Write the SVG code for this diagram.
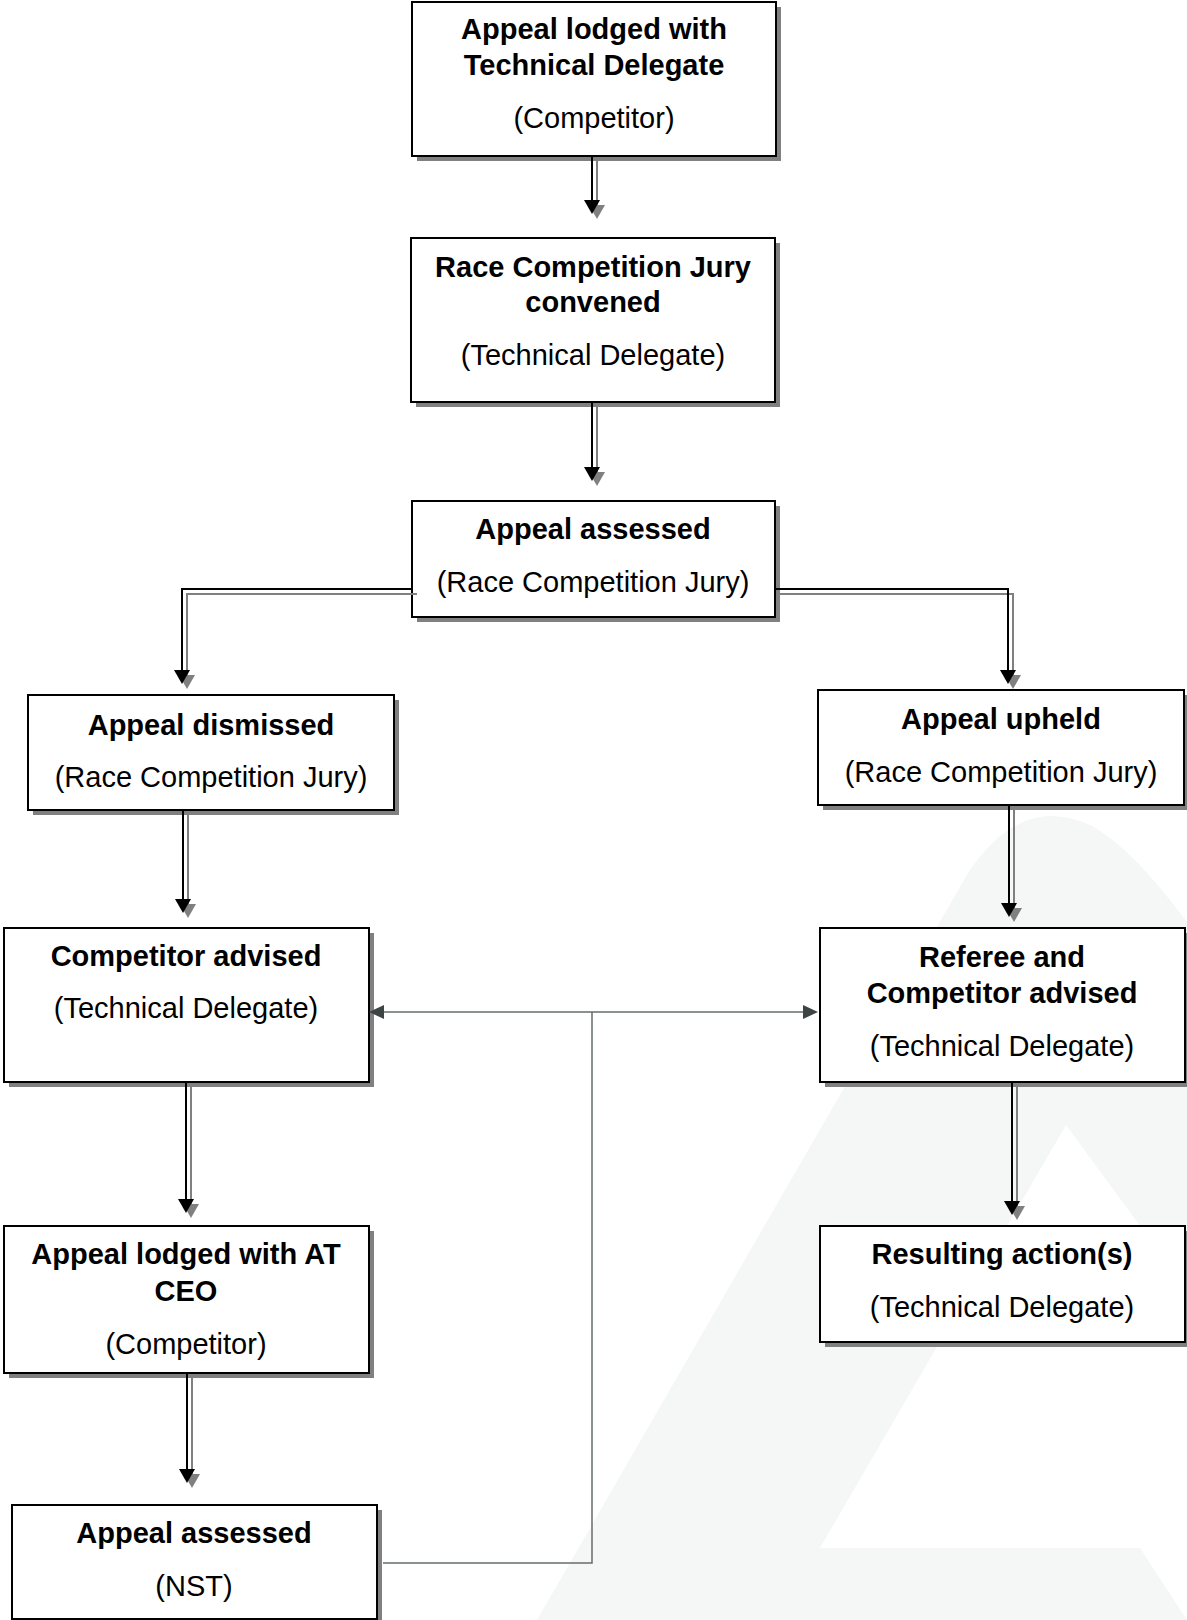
<svg xmlns="http://www.w3.org/2000/svg" width="1187" height="1620" viewBox="0 0 1187 1620">
<style>
.box{fill:#ffffff;stroke:#000000;stroke-width:2}
.sh{fill:#808080}
.t{font-family:"Liberation Sans",Arial,sans-serif;font-size:29px;fill:#000000;text-anchor:middle}
.b{font-weight:bold}
.c{fill:none;stroke:#000000;stroke-width:2;marker-end:url(#ah)}
.cs{fill:none;stroke:#808080;stroke-width:2;marker-end:url(#ahs)}
.thin{fill:none;stroke:#656c6c;stroke-width:1.5}
.thina{fill:none;stroke:#656c6c;stroke-width:1.5;marker-end:url(#aht)}
</style>
<defs>
<marker id="ah" viewBox="0 0 14 16" refX="8" refY="8" markerWidth="14" markerHeight="16" markerUnits="userSpaceOnUse" orient="auto"><path d="M0,0 L14,8 L0,16 Z" fill="#000000"/></marker>
<marker id="ahs" viewBox="0 0 14 16" refX="8" refY="8" markerWidth="14" markerHeight="16" markerUnits="userSpaceOnUse" orient="auto"><path d="M0,0 L14,8 L0,16 Z" fill="#808080"/></marker>
<marker id="aht" viewBox="0 0 15 14" refX="9" refY="7" markerWidth="15" markerHeight="14" markerUnits="userSpaceOnUse" orient="auto"><path d="M0,0 L15,7 L0,14 Z" fill="#3d4544"/></marker>
</defs>
<rect width="1187" height="1620" fill="#ffffff"/>
<path id="watermark" d="M537 1620 L968 873 Q1022 792 1092 826 Q1132 848 1187 922 L1187 1290 L1066 1125 L820 1548 L1140 1548 L1187 1620 Z" fill="#f5f6f6"/>

<g id="n1">
<rect class="sh" x="417" y="7" width="364" height="154"/>
<rect class="box" x="412" y="2" width="364" height="154"/>
<text class="t b" x="594" y="39">Appeal lodged with</text>
<text class="t b" x="594" y="75">Technical Delegate</text>
<text class="t" x="594" y="128">(Competitor)</text>
</g>
<g id="n2">
<rect class="sh" x="416" y="243" width="364" height="164"/>
<rect class="box" x="411" y="238" width="364" height="164"/>
<text class="t b" x="593" y="277">Race Competition Jury</text>
<text class="t b" x="593" y="312">convened</text>
<text class="t" x="593" y="365">(Technical Delegate)</text>
</g>
<g id="n3">
<rect class="sh" x="417" y="506" width="363" height="116"/>
<rect class="box" x="412" y="501" width="363" height="116"/>
<text class="t b" x="593" y="539">Appeal assessed</text>
<text class="t" x="593" y="592">(Race Competition Jury)</text>
</g>
<g id="n4">
<rect class="sh" x="33" y="700" width="366" height="115"/>
<rect class="box" x="28" y="695" width="366" height="115"/>
<text class="t b" x="211" y="735">Appeal dismissed</text>
<text class="t" x="211" y="787">(Race Competition Jury)</text>
</g>
<g id="n5">
<rect class="sh" x="9" y="933" width="365" height="154"/>
<rect class="box" x="4" y="928" width="365" height="154"/>
<text class="t b" x="186" y="966">Competitor advised</text>
<text class="t" x="186" y="1018">(Technical Delegate)</text>
</g>
<g id="n6">
<rect class="sh" x="823" y="695" width="366" height="115"/>
<rect class="box" x="818" y="690" width="366" height="115"/>
<text class="t b" x="1001" y="729">Appeal upheld</text>
<text class="t" x="1001" y="782">(Race Competition Jury)</text>
</g>
<g id="n7">
<rect class="sh" x="825" y="933" width="365" height="154"/>
<rect class="box" x="820" y="928" width="365" height="154"/>
<text class="t b" x="1002" y="967">Referee and</text>
<text class="t b" x="1002" y="1003">Competitor advised</text>
<text class="t" x="1002" y="1056">(Technical Delegate)</text>
</g>
<g id="n8">
<rect class="sh" x="825" y="1231" width="365" height="116"/>
<rect class="box" x="820" y="1226" width="365" height="116"/>
<text class="t b" x="1002" y="1264">Resulting action(s)</text>
<text class="t" x="1002" y="1317">(Technical Delegate)</text>
</g>
<g id="n9">
<rect class="sh" x="9" y="1231" width="365" height="147"/>
<rect class="box" x="4" y="1226" width="365" height="147"/>
<text class="t b" x="186" y="1264">Appeal lodged with AT</text>
<text class="t b" x="186" y="1301">CEO</text>
<text class="t" x="186" y="1354">(Competitor)</text>
</g>
<g id="n10">
<rect class="sh" x="17" y="1510" width="365" height="114"/>
<rect class="box" x="12" y="1505" width="365" height="114"/>
<text class="t b" x="194" y="1543">Appeal assessed</text>
<text class="t" x="194" y="1596">(NST)</text>
</g>

<g id="connectors">
<g transform="translate(5,5)">
<path class="cs" d="M592 156 V208"/>
<path class="cs" d="M592 402 V475"/>
<path class="cs" d="M412 589 H182 V678"/>
<path class="cs" d="M775 589 H1008 V678"/>
<path class="cs" d="M183 810 V907"/>
<path class="cs" d="M1009 805 V911"/>
<path class="cs" d="M186 1082 V1207"/>
<path class="cs" d="M1012 1082 V1209"/>
<path class="cs" d="M187 1373 V1477"/>
</g>
<path class="c" d="M592 156 V208"/>
<path class="c" d="M592 402 V475"/>
<path class="c" d="M412 589 H182 V678"/>
<path class="c" d="M775 589 H1008 V678"/>
<path class="c" d="M183 810 V907"/>
<path class="c" d="M1009 805 V911"/>
<path class="c" d="M186 1082 V1207"/>
<path class="c" d="M1012 1082 V1209"/>
<path class="c" d="M187 1373 V1477"/>
<path class="thin" d="M383 1563 H592 V1012"/>
<path class="thina" d="M592 1012 H375"/>
<path class="thina" d="M592 1012 H812"/>
</g>
</svg>
